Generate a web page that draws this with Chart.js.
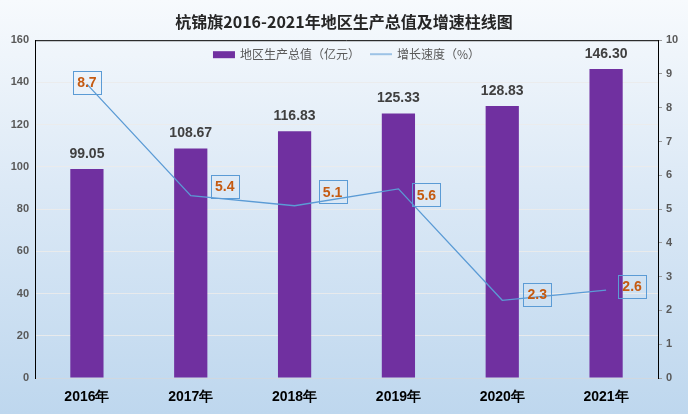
<!DOCTYPE html>
<html>
<head>
<meta charset="utf-8">
<script src="https://cdn.jsdelivr.net/npm/chart.js@4"></script>
<style>
  html, body { margin: 0; padding: 0; background: #dce9f6; }
  #wrap { width: 688px; height: 414px; }
</style>
</head>
<body>
<div id="wrap"><canvas id="gdpChart" width="688" height="414"></canvas></div>
<script>
const years = ["2016年", "2017年", "2018年", "2019年", "2020年", "2021年"];
const gdp = [99.05, 108.67, 116.83, 125.33, 128.83, 146.30];
const growth = [8.7, 5.4, 5.1, 5.6, 2.3, 2.6];

const gdpLabel = "地区生产总值（亿元）";
const growthLabel = "增长速度（%）";
const titleText = "杭锦旗2016-2021年地区生产总值及增速柱线图";

// nudges for the boxed growth labels (dx from point to box centre, dy)
const labelNudge = [[0, -2], [34, -9], [38, -14], [28, 6], [35, -6], [26, -4]];

const purple = "#7030A0";
const lineBlue = "#5B9BD5";

// --- background gradient ---
const bgPlugin = {
    id: "bg",
    beforeDraw(chart) {
        const { ctx, width, height } = chart;
        const g = ctx.createLinearGradient(0, 0, 0, height);
        g.addColorStop(0, "#f7fafd");
        g.addColorStop(0.45, "#dce9f6");
        g.addColorStop(1, "#bed7ee");
        ctx.save();
        ctx.fillStyle = g;
        ctx.fillRect(0, 0, width, height);
        ctx.restore();
    }
};

// --- frame, legend, value labels ---
const decorPlugin = {
    id: "decor",
    afterDatasetsDraw(chart) {
        const { ctx, chartArea: a } = chart;
        ctx.save();

        // top border of the plot
        ctx.strokeStyle = "#000";
        ctx.lineWidth = 1;
        ctx.beginPath();
        ctx.moveTo(a.left, a.top + 0.5);
        ctx.lineTo(a.right, a.top + 0.5);
        ctx.stroke();

        // bar value labels
        ctx.font = "bold 14px 'Liberation Sans', Arial, sans-serif";
        ctx.fillStyle = "#404040";
        ctx.textAlign = "center";
        ctx.textBaseline = "bottom";
        chart.getDatasetMeta(1).data.forEach((bar, i) => {
            ctx.fillText(gdp[i].toFixed(2), bar.x, bar.y - 8);
        });

        // growth labels in boxes
        ctx.font = "bold 14px 'Liberation Sans', Arial, sans-serif";
        ctx.textBaseline = "middle";
        chart.getDatasetMeta(0).data.forEach((pt, i) => {
            const cx = pt.x + labelNudge[i][0];
            const cy = pt.y + labelNudge[i][1];
            ctx.strokeStyle = lineBlue;
            ctx.lineWidth = 1;
            ctx.strokeRect(Math.round(cx - 14) + 0.5, Math.round(cy - 11.5) + 0.5, 28, 23);
            ctx.fillStyle = "#C55A11";
            ctx.fillText(growth[i].toFixed(1), cx, cy + 1);
        });

        // legend
        ctx.font = "12px 'Noto Sans CJK SC', sans-serif";
        ctx.textAlign = "left";
        const w1 = ctx.measureText(gdpLabel).width;
        const w2 = ctx.measureText(growthLabel).width;
        const total = 27 + w1 + 10 + 27 + w2;
        let x = (a.left + a.right) / 2 - total / 2;
        const y = a.top + 14;
        ctx.fillStyle = purple;
        ctx.fillRect(x, y - 3, 22, 7);
        x += 27;
        ctx.fillStyle = "#595959";
        ctx.fillText(gdpLabel, x, y);
        x += w1 + 10;
        ctx.strokeStyle = "#9dc3e6";
        ctx.lineWidth = 2;
        ctx.beginPath();
        ctx.moveTo(x, y);
        ctx.lineTo(x + 22, y);
        ctx.stroke();
        x += 27;
        ctx.fillText(growthLabel, x, y);

        ctx.restore();
    }
};

new Chart(document.getElementById("gdpChart"), {
    data: {
        labels: years,
        datasets: [
            {
                type: "line",
                label: growthLabel,
                data: growth,
                yAxisID: "y1",
                borderColor: lineBlue,
                borderWidth: 1.3,
                pointRadius: 0,
                tension: 0,
                order: 0
            },
            {
                type: "bar",
                label: gdpLabel,
                data: gdp,
                yAxisID: "y",
                backgroundColor: purple,
                categoryPercentage: 1,
                barPercentage: 0.32,
                order: 1
            }
        ]
    },
    options: {
        responsive: false,
        animation: false,
        layout: { padding: 0 },
        plugins: {
            legend: { display: false },
            tooltip: { enabled: false },
            title: {
                display: true,
                text: titleText,
                color: "#262626",
                font: { family: "'Noto Sans CJK SC', sans-serif", size: 16, weight: "bold" },
                padding: { top: 12, bottom: 9 }
            }
        },
        scales: {
            x: {
                afterFit: s => { s.height = 36; },
                grid: { display: false },
                border: { color: "#d0d8e0" },
                ticks: {
                    color: "#000",
                    padding: 3,
                    font: { family: "'Liberation Sans', Arial, sans-serif", size: 14, weight: "bold" }
                }
            },
            y: {
                position: "left",
                min: 0,
                max: 160,
                afterFit: s => { s.width = 35; },
                grid: { color: "rgba(235,235,235,0.9)", drawTicks: false },
                border: { color: "#000", width: 1 },
                ticks: {
                    stepSize: 20,
                    color: "#595959",
                    padding: 6,
                    font: { family: "'Liberation Sans', Arial, sans-serif", size: 11, weight: "bold" }
                }
            },
            y1: {
                position: "right",
                min: 0,
                max: 10,
                afterFit: s => { s.width = 30; },
                grid: { drawOnChartArea: false, tickLength: 4, color: "#999" },
                border: { color: "#000", width: 1 },
                ticks: {
                    stepSize: 1,
                    color: "#595959",
                    padding: 4,
                    font: { family: "'Liberation Sans', Arial, sans-serif", size: 11, weight: "bold" }
                }
            }
        }
    },
    plugins: [bgPlugin, decorPlugin]
});
</script>
</body>
</html>
